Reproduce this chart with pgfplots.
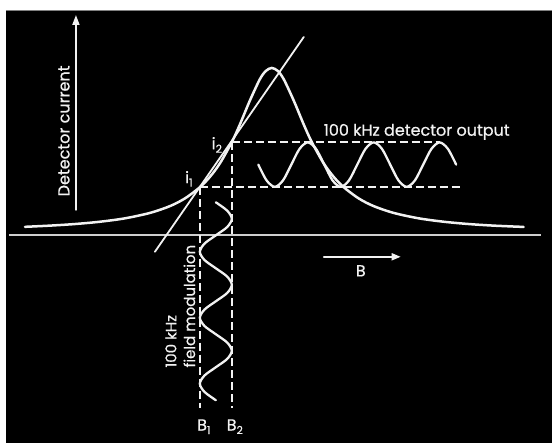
\documentclass[border=0pt]{standalone}
\usepackage{fontspec}
\setmainfont{Poppins}[FakeBold=0.6]
\usepackage{pgfplots}
\pgfplotsset{compat=1.18}
\usetikzlibrary{arrows.meta}
\definecolor{ink}{gray}{0.95}
\newcommand{\sub}[1]{\raisebox{-3.5pt}{\fontsize{11}{12}\selectfont #1}}
\begin{document}
\begin{tikzpicture}
\begin{axis}[x=1pt,y=1pt,xmin=0,xmax=552,ymin=0,ymax=443,hide axis,clip=false,
  no markers,
  every axis plot/.append style={ink, line width=2.2pt, line cap=round, line join=round}]
\fill[white] (axis cs:0,0) rectangle (axis cs:552,443);
\fill[black] (axis cs:6,0) rectangle (axis cs:552,433);
\draw[gray, line width=0.8pt] (axis cs:6,433) -- (axis cs:552,433);
% baseline
\addplot[ink!85!black, line width=2pt, line cap=butt] coordinates {(9,208) (541,208)};
% vertical arrow
\addplot[line width=1.8pt, -{Triangle[length=10pt,width=7pt]}] coordinates {(76,233) (76,428)};
% B arrow
\addplot[line width=1.8pt, -{Triangle[length=9pt,width=7pt]}] coordinates {(324,186) (401,186)};
% Lorentzian absorption curve
\addplot[smooth, line width=2.5pt] coordinates {
(25,216.0) (50,217.2) (75,218.8) (100,221.1) (125,224.5) (150,229.9) (170,236.7)
(185,244.4) (200,255.6) (210,265.9) (220,279.4) (232,300.8) (240,318.3) (250,342.2)
(260,363.6) (266,372.0) (272,375.0) (278,372.0) (284,363.6) (294,342.2) (304,318.3)
(312,300.8) (324,279.4) (334,265.9) (344,255.6) (359,244.4) (374,236.7) (394,229.9)
(419,224.5) (444,221.1) (469,218.8) (494,217.2) (524,215.9)};
% tangent line
\addplot[line width=1.8pt] coordinates {(155,191) (304,406)};
% dashed guides
\addplot[line width=1.8pt, dash pattern=on 8pt off 4pt, line cap=butt] coordinates {(232,300.5) (440,300.5)};
\addplot[line width=1.8pt, dash pattern=on 8pt off 4pt, line cap=butt] coordinates {(200,256) (461,256)};
\addplot[line width=1.8pt, dash pattern=on 8pt off 4pt, line cap=butt] coordinates {(200,256) (200,35)};
\addplot[line width=1.8pt, dash pattern=on 8pt off 4pt, line cap=butt] coordinates {(232,300.5) (232,35)};
% 100 kHz detector output
\addplot[smooth, line width=2.3pt] coordinates {
(258.5,278.25) (266.75,262.5) (275,256) (283.25,262.5) (291.5,278.25) (299.75,294) (308,300.5)
(316.25,294) (324.5,278.25) (332.75,262.5) (341,256) (349.25,262.5) (357.5,278.25) (365.75,294)
(374,300.5) (382.25,294) (390.5,278.25) (398.75,262.5) (407,256) (415.25,262.5) (423.5,278.25)
(431.75,294) (440,300.5) (448.25,294) (456.5,278.25)};
% 100 kHz field modulation
\addplot[smooth, line width=2.3pt] coordinates {
(216,240.5) (227.3,232.25) (232,224) (227.3,215.75) (216,207.5) (204.7,199.25) (200,191)
(204.7,182.75) (216,174.5) (227.3,166.25) (232,158) (227.3,149.75) (216,141.5) (204.7,133.25)
(200,125) (204.7,116.75) (216,108.5) (227.3,100.25) (232,92) (227.3,83.75) (216,75.5)
(204.7,67.25) (200,59) (204.7,50.75) (216,42.5)};
% labels
\begin{scope}[every node/.style={text=ink, inner sep=0pt, font=\fontsize{16}{18}\selectfont}]
\node[rotate=90] at (axis cs:64,312) {Detector current};
\node at (axis cs:417,311) {100 kHz detector output};
\node at (axis cs:361,172) {B};
\node at (axis cs:189,264) {i\sub{1}};
\node at (axis cs:217,298) {i\sub{2}};
\node at (axis cs:204,16) {B\sub{1}};
\node at (axis cs:235,16) {B\sub{2}};
\node[rotate=90, anchor=west, font=\fontsize{15}{17}\selectfont] at (axis cs:171,75) {100 kHz};
\node[rotate=90, anchor=west, font=\fontsize{15}{17}\selectfont] at (axis cs:189.5,75) {field modulation};
\end{scope}
\end{axis}
\end{tikzpicture}
\end{document}
